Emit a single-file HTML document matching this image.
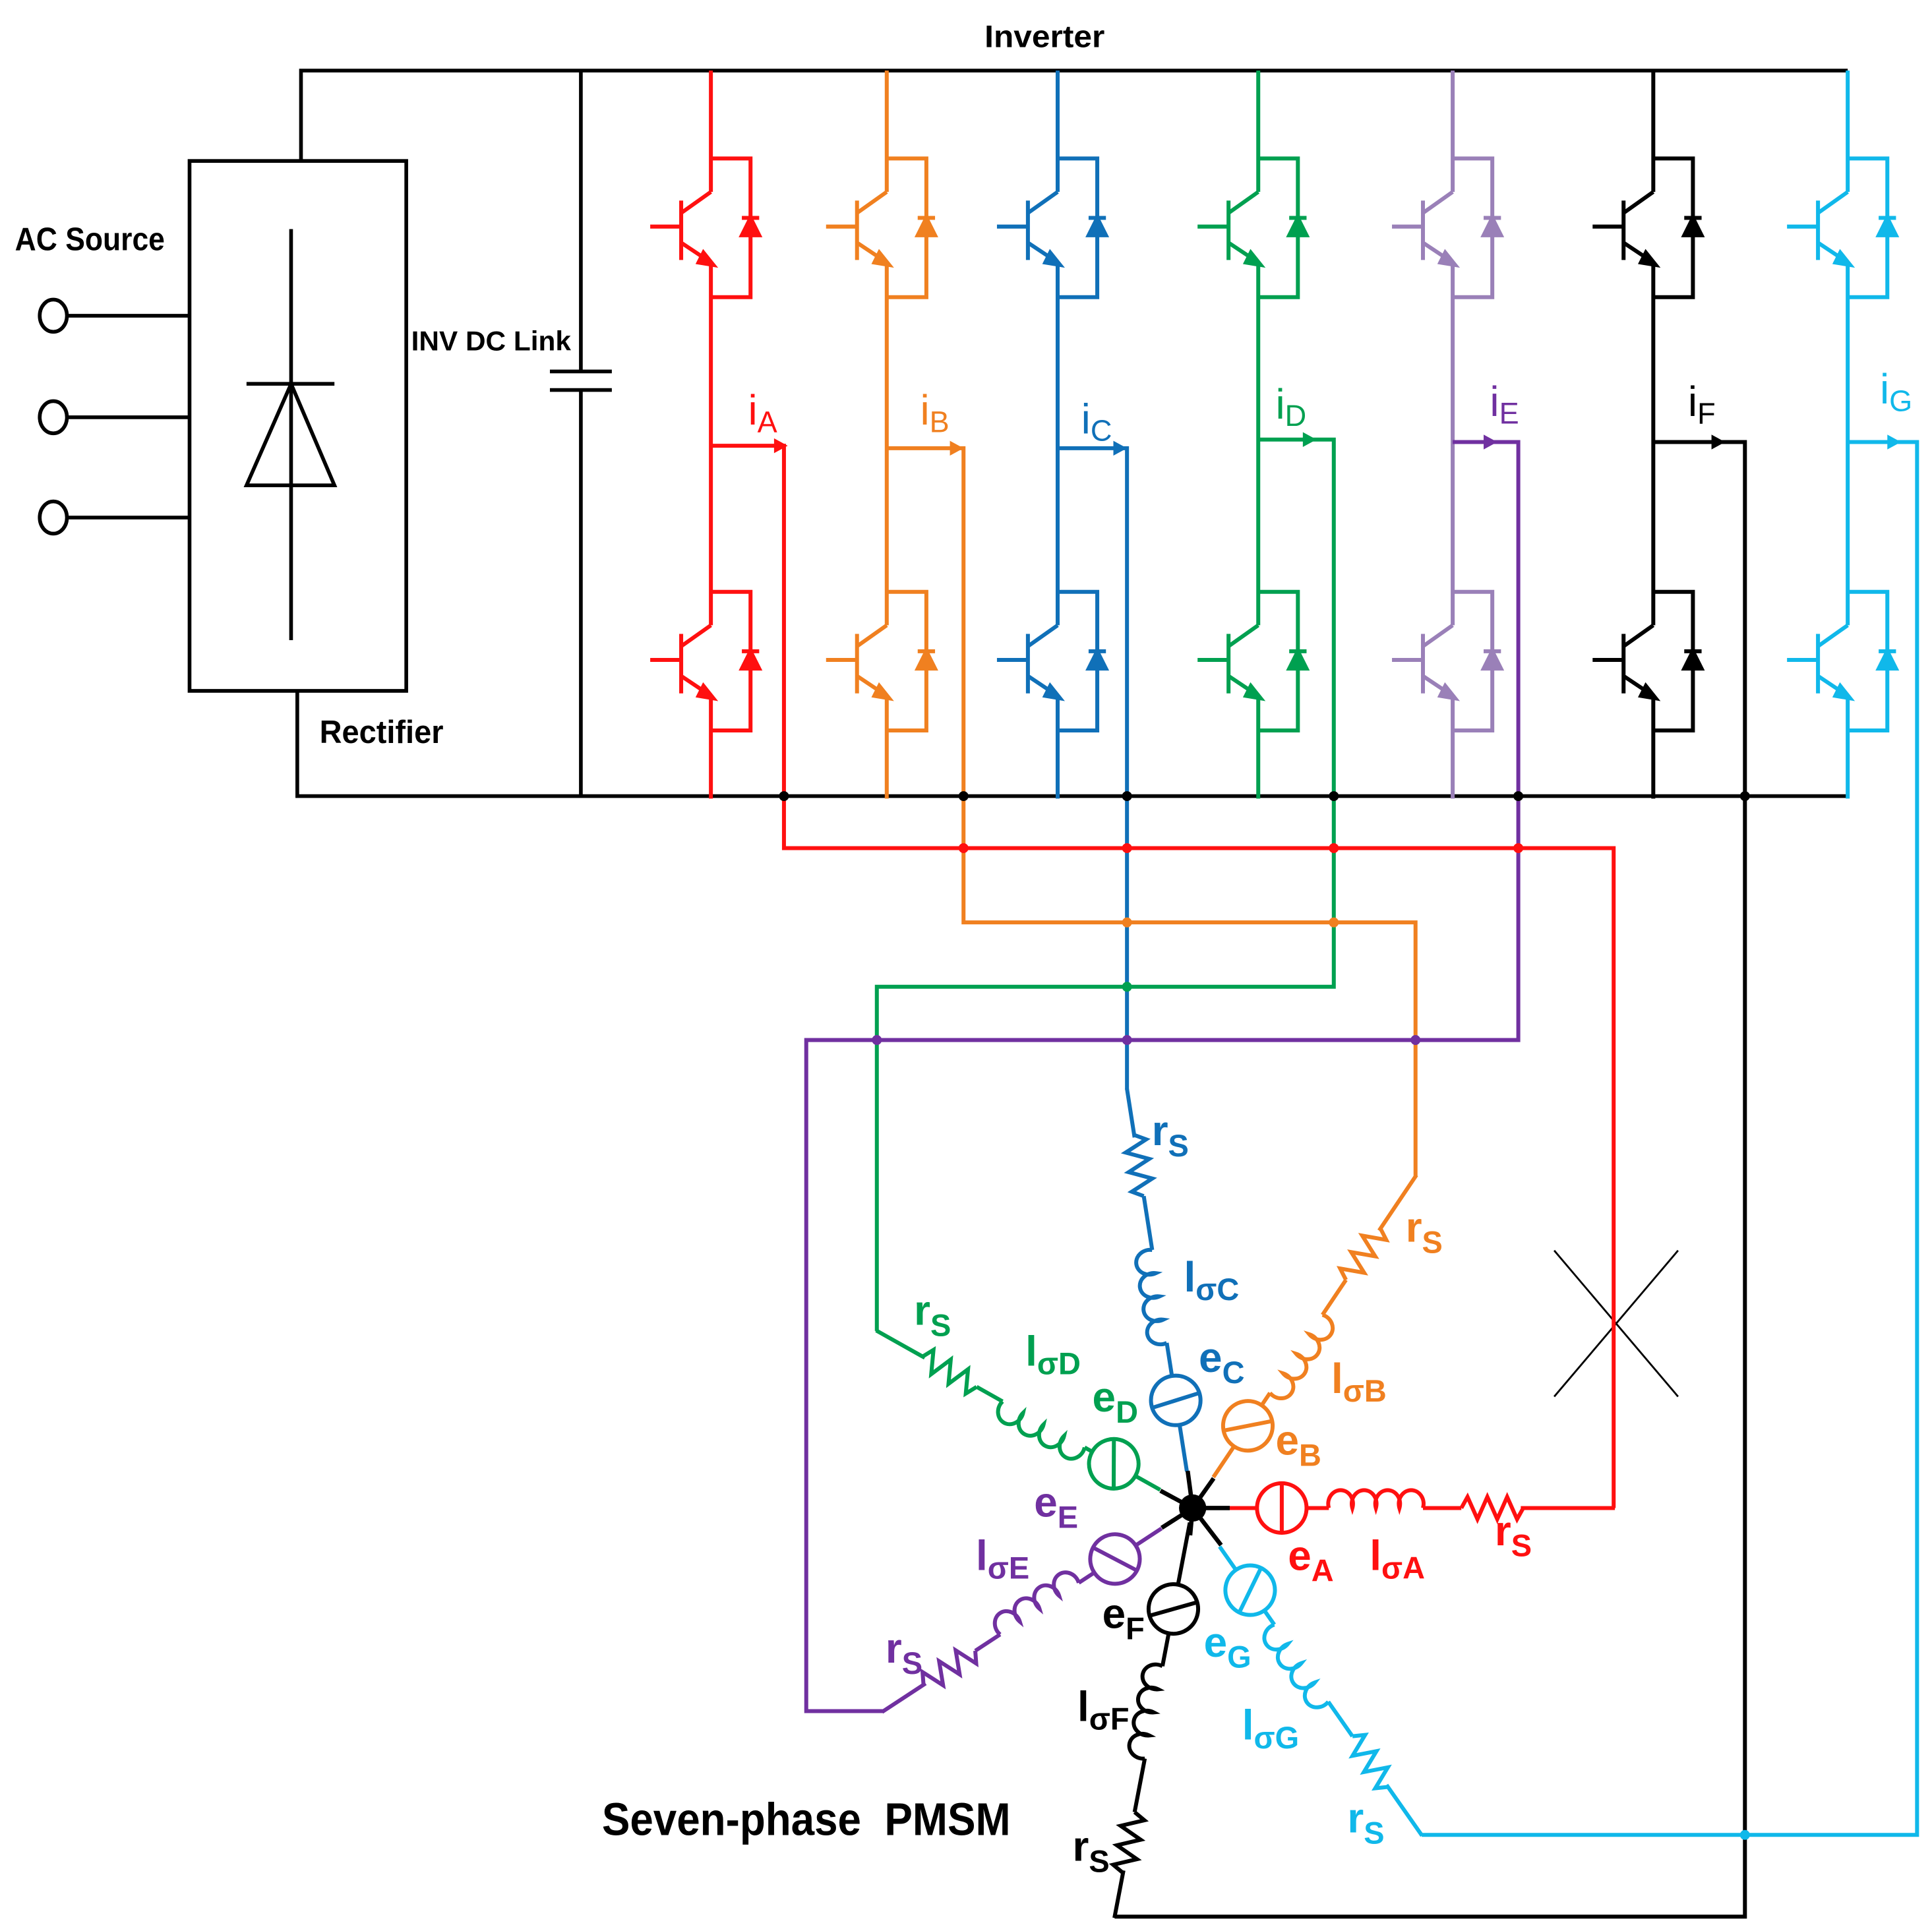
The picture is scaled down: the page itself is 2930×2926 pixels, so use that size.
<!DOCTYPE html>
<html><head><meta charset="utf-8"><style>
html,body{margin:0;padding:0;background:#fff}
svg{display:block}
text{font-family:"Liberation Sans",Arial,sans-serif}
</style></head><body>
<svg width="2930" height="2926" viewBox="0 0 1560 1558" xmlns="http://www.w3.org/2000/svg">
<defs>
<symbol id="igbt" overflow="visible">
<g fill="none" stroke="currentColor" stroke-width="3.2">
<path d="M0,0 H32 V112 H0"/>
<path d="M-49,55 H-24 M-24,34 V82 M-24,44 L0,27 M-24,68 L0,84"/>
<path d="M25,48 H39"/>
</g>
<polygon points="25,62 39,62 32,48" fill="currentColor"/>
<polygon points="-6,76 2,86 -10,84" fill="currentColor"/>
</symbol>
<symbol id="res" overflow="visible"><path d="M0,0 l5,-9 l8,18 l8,-18 l8,18 l8,-18 l8,18 l5,-9" fill="none" stroke="currentColor" stroke-width="3.2"/></symbol>
<symbol id="ind" overflow="visible"><path d="M0,0 a10,11 0 1 1 19,0 a10,11 0 1 1 19,0 a10,11 0 1 1 19,0 a10,11 0 1 1 19,0" fill="none" stroke="currentColor" stroke-width="3.2"/></symbol>
</defs>
<g fill="none" stroke="#000" stroke-width="3">
<path d="M243,130 V57 H1492"/>
<rect x="153" y="130" width="175" height="428"/>
<path d="M240,558 V643 H1492"/>
<path d="M235,185 V517 M199,310 H270"/>
<polygon points="235,310 199,392 270,392"/>
<path d="M469,57 V300 M444,300 H494 M444,315 H494 M469,315 V643"/>
<path d="M55,255 H153 M55,337 H153 M55,418 H153"/>
<ellipse cx="43" cy="255" rx="11" ry="13"/><ellipse cx="43" cy="337" rx="11" ry="13"/><ellipse cx="43" cy="418" rx="11" ry="13"/>
<path d="M1255,1010 L1355,1128 M1355,1010 L1255,1128" stroke-width="1.5"/>
</g>
<g fill="none" stroke-width="3.2">
<g stroke="#ff1010" style="color:#ff1010"><path d="M574,57 V155 M574,212 V505 M574,562 V645 M574,360 H633 V685 H1303 V1218"/><use href="#igbt" x="574" y="128"/><use href="#igbt" x="574" y="478"/></g>
<g stroke="#f08020" style="color:#f08020"><path d="M716,57 V155 M716,212 V505 M716,562 V645 M716,362 H778 V745 H1143 V950"/><use href="#igbt" x="716" y="128"/><use href="#igbt" x="716" y="478"/></g>
<g stroke="#1070b8" style="color:#1070b8"><path d="M854,57 V155 M854,212 V505 M854,562 V645 M854,362 H910 V880"/><use href="#igbt" x="854" y="128"/><use href="#igbt" x="854" y="478"/></g>
<g stroke="#00a050" style="color:#00a050"><path d="M1016,57 V155 M1016,212 V505 M1016,562 V645 M1016,355 H1077 V797 H708 V1075"/><use href="#igbt" x="1016" y="128"/><use href="#igbt" x="1016" y="478"/></g>
<g stroke="#9a80b8" style="color:#9a80b8"><path d="M1173,57 V155 M1173,212 V505 M1173,562 V645"/><use href="#igbt" x="1173" y="128"/><use href="#igbt" x="1173" y="478"/></g>
<path stroke="#7030a0" d="M1173,357 H1226 V840 H651 V1382 H713"/>
<g stroke="#000" style="color:#000"><path d="M1335,57 V155 M1335,212 V505 M1335,562 V645 M1335,357 H1409 V1548 H900"/><use href="#igbt" x="1335" y="128"/><use href="#igbt" x="1335" y="478"/></g>
<g stroke="#10b8ea" style="color:#10b8ea"><path d="M1492,57 V155 M1492,212 V505 M1492,562 V645 M1492,357 H1548 V1482 H1148"/><use href="#igbt" x="1492" y="128"/><use href="#igbt" x="1492" y="478"/></g>
</g>
<polygon points="625,354 625,366 636,360" fill="#ff1010"/>
<polygon points="767,356 767,368 778,362" fill="#f08020"/>
<polygon points="899,356 899,368 910,362" fill="#1070b8"/>
<polygon points="1052,349 1052,361 1063,355" fill="#00a050"/>
<polygon points="1198,351 1198,363 1209,357" fill="#7030a0"/>
<polygon points="1382,351 1382,363 1393,357" fill="#000"/>
<polygon points="1524,351 1524,363 1535,357" fill="#10b8ea"/>
<g>
<circle cx="633" cy="643" r="4" fill="#000"/><circle cx="778" cy="643" r="4" fill="#000"/><circle cx="910" cy="643" r="4" fill="#000"/><circle cx="1077" cy="643" r="4" fill="#000"/><circle cx="1226" cy="643" r="4" fill="#000"/><circle cx="1409" cy="643" r="4" fill="#000"/>
<circle cx="778" cy="685" r="4" fill="#ff1010"/><circle cx="910" cy="685" r="4" fill="#ff1010"/><circle cx="1077" cy="685" r="4" fill="#ff1010"/><circle cx="1226" cy="685" r="4" fill="#ff1010"/>
<circle cx="910" cy="745" r="4" fill="#f08020"/><circle cx="1077" cy="745" r="4" fill="#f08020"/>
<circle cx="910" cy="797" r="4" fill="#00a050"/>
<circle cx="708" cy="840" r="4" fill="#7030a0"/><circle cx="910" cy="840" r="4" fill="#7030a0"/><circle cx="1143" cy="840" r="4" fill="#7030a0"/>
<circle cx="1409" cy="1482" r="4" fill="#10b8ea"/>
</g>
<g transform="translate(963,1218)" fill="none" stroke-width="3.2">
<g transform="rotate(0)" stroke="#ff1010" style="color:#ff1010"><path d="M30,0 H52 M92,0 H110 M186,0 H217 M265,0 H341"/><circle cx="72" cy="0" r="20"/><path d="M72,-20 V20"/><use href="#ind" x="110" y="0"/><use href="#res" x="217" y="0"/></g>
<g transform="rotate(-56.1)" stroke="#f08020" style="color:#f08020"><path d="M30,0 H60 M100,0 H112 M188,0 H222 M270,0 H324"/><circle cx="80" cy="0" r="20"/><path d="M66,-14 L94,14"/><use href="#ind" x="112" y="0" transform="scale(1,-1)" /><use href="#res" x="222" y="0"/></g>
<g transform="rotate(-98.9)" stroke="#1070b8" style="color:#1070b8"><path d="M30,0 H68 M108,0 H135 M211,0 H255 M303,0 H343"/><circle cx="88" cy="0" r="20"/><path d="M85,-20 L91,20"/><use href="#ind" x="135" y="0"/><use href="#res" x="255" y="0"/></g>
<g transform="rotate(209.3)" stroke="#00a050" style="color:#00a050"><path d="M30,0 H53 M93,0 H100 M176,0 H200 M248,0 H293"/><circle cx="73" cy="0" r="20"/><path d="M63,-18 L83,18"/><use href="#ind" x="100" y="0"/><use href="#res" x="200" y="0"/></g>
<g transform="rotate(146.7)" stroke="#7030a0" style="color:#7030a0"><path d="M30,0 H55 M95,0 H110 M186,0 H210 M258,0 H300"/><circle cx="75" cy="0" r="20"/><path d="M65,-18 L85,18"/><use href="#ind" x="110" y="0" transform="scale(1,-1)"/><use href="#res" x="210" y="0"/></g>
<g transform="rotate(100.8)" stroke="#000" style="color:#000"><path d="M12,0 H63 M103,0 H130 M206,0 H250 M298,0 H337"/><circle cx="83" cy="0" r="20"/><path d="M74,-18 L92,18"/><use href="#ind" x="130" y="0" transform="scale(1,-1)"/><use href="#res" x="250" y="0"/></g>
<g transform="rotate(55)" stroke="#10b8ea" style="color:#10b8ea"><path d="M38,0 H61 M101,0 H115 M191,0 H225 M273,0 H323"/><circle cx="81" cy="0" r="20"/><path d="M71,-18 L91,18"/><use href="#ind" x="115" y="0" transform="scale(1,-1)"/><use href="#res" x="225" y="0"/></g>
<g stroke="#000" stroke-width="3.5"><path d="M0,0 H30 M0,0 L17,-24 M0,0 L-4,-30 M0,0 L-26,-14 M0,0 L-25,16 M0,0 L-2,22 M0,0 L23,30"/></g>
<circle cx="0" cy="0" r="11" fill="#000" stroke="none"/>
</g>
<g font-weight="bold">
<text x="795" y="38" font-size="25" textLength="97" lengthAdjust="spacingAndGlyphs">Inverter</text>
<text x="12" y="202" font-size="26" textLength="121" lengthAdjust="spacingAndGlyphs">AC Source</text>
<text x="332" y="283" font-size="22" textLength="129" lengthAdjust="spacingAndGlyphs">INV DC Link</text>
<text x="258" y="600" font-size="26" textLength="100" lengthAdjust="spacingAndGlyphs">Rectifier</text>
<text x="486" y="1482" font-size="37" textLength="330" lengthAdjust="spacingAndGlyphs">Seven-phase&#160; PMSM</text>
</g>
<g font-size="34">
<text x="604" y="343" fill="#ff1010">i<tspan font-size="24" dy="6">A</tspan></text>
<text x="743" y="343" fill="#f08020">i<tspan font-size="24" dy="6">B</tspan></text>
<text x="873" y="350" fill="#1070b8">i<tspan font-size="24" dy="6">C</tspan></text>
<text x="1030" y="338" fill="#00a050">i<tspan font-size="24" dy="6">D</tspan></text>
<text x="1203" y="336" fill="#7030a0">i<tspan font-size="24" dy="6">E</tspan></text>
<text x="1363" y="336" fill="#000">i<tspan font-size="24" dy="6">F</tspan></text>
<text x="1518" y="326" fill="#10b8ea">i<tspan font-size="24" dy="6">G</tspan></text>
</g>
<g font-size="34" font-weight="bold">
<text x="930" y="925" fill="#1070b8">r<tspan font-size="25" dy="9">S</tspan></text>
<text x="956" y="1043" fill="#1070b8">l<tspan font-size="25" dy="7">σC</tspan></text>
<text x="968" y="1108" fill="#1070b8">e<tspan font-size="25" dy="9">C</tspan></text>
<text x="1135" y="1003" fill="#f08020">r<tspan font-size="25" dy="9">S</tspan></text>
<text x="1075" y="1125" fill="#f08020">l<tspan font-size="25" dy="7">σB</tspan></text>
<text x="1030" y="1175" fill="#f08020">e<tspan font-size="25" dy="9">B</tspan></text>
<text x="882" y="1140" fill="#00a050">e<tspan font-size="25" dy="9">D</tspan></text>
<text x="828" y="1103" fill="#00a050">l<tspan font-size="25" dy="7">σD</tspan></text>
<text x="738" y="1070" fill="#00a050">r<tspan font-size="25" dy="9">S</tspan></text>
<text x="835" y="1225" fill="#7030a0">e<tspan font-size="25" dy="9">E</tspan></text>
<text x="788" y="1268" fill="#7030a0">l<tspan font-size="25" dy="7">σE</tspan></text>
<text x="715" y="1343" fill="#7030a0">r<tspan font-size="25" dy="9">S</tspan></text>
<text x="890" y="1315" fill="#000">e<tspan font-size="25" dy="9">F</tspan></text>
<text x="870" y="1390" fill="#000">l<tspan font-size="25" dy="7">σF</tspan></text>
<text x="866" y="1503" fill="#000">r<tspan font-size="25" dy="9">S</tspan></text>
<text x="972" y="1338" fill="#10b8ea">e<tspan font-size="25" dy="9">G</tspan></text>
<text x="1003" y="1405" fill="#10b8ea">l<tspan font-size="25" dy="7">σG</tspan></text>
<text x="1088" y="1480" fill="#10b8ea">r<tspan font-size="25" dy="9">S</tspan></text>
<text x="1040" y="1268" fill="#ff1010">e<tspan font-size="25" dy="9">A</tspan></text>
<text x="1106" y="1268" fill="#ff1010">l<tspan font-size="25" dy="7">σA</tspan></text>
<text x="1207" y="1248" fill="#ff1010">r<tspan font-size="25" dy="9">S</tspan></text>
</g>
</svg>
</body></html>
